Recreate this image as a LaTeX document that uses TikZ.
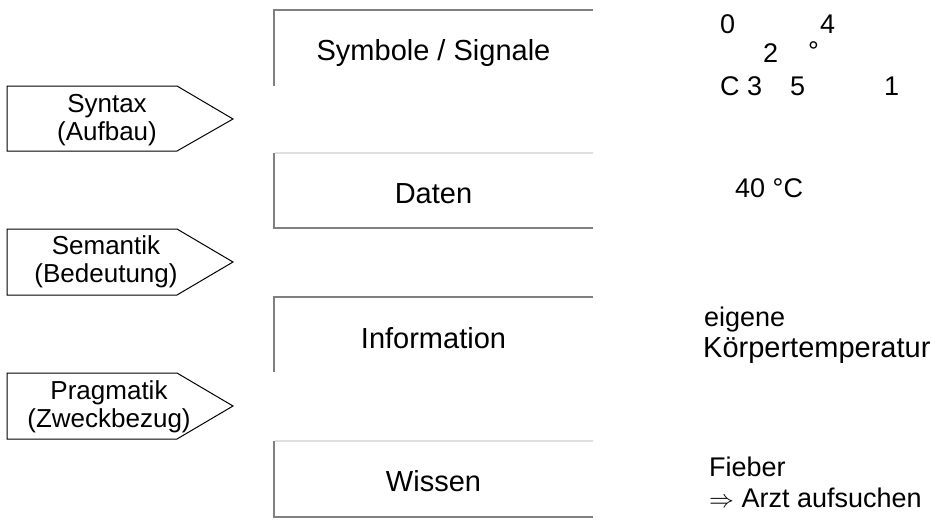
\documentclass[tikz,border=0pt]{standalone}
\usepackage{fontspec}
\setmainfont{Liberation Sans}
\begin{document}
\begin{tikzpicture}[x=1pt,y=-1pt,
  boxline/.style={draw=black!50,line width=1.3pt},
  lightline/.style={draw=black!12,line width=1.3pt},
  arrowshape/.style={draw=black,line width=1pt},
  boxtext/.style={anchor=base,inner sep=0pt,font=\fontsize{29}{33}\selectfont},
  arrowtext/.style={align=center,inner sep=0pt,font=\fontsize{26}{28.5}\selectfont},
  sidetext/.style={anchor=base west,inner sep=0pt,font=\fontsize{27}{30}\selectfont},
  sidetextB/.style={anchor=base west,inner sep=0pt,font=\fontsize{29}{30}\selectfont}]
\useasboundingbox[fill=white] (0,0) rectangle (940,520);

% boxes (level blocks)
\draw[boxline] (593,10) -- (274,10) -- (274,86);
\draw[lightline] (593,153) -- (275,153);
\draw[boxline] (274,153) -- (274,228) -- (593,228);
\draw[boxline] (593,297) -- (274,297) -- (274,372);
\draw[lightline] (593,441) -- (275,441);
\draw[boxline] (274,441) -- (274,517) -- (593,517);

\node[boxtext] (sym) at (433.5,60) {Symbole / Signale};
\node[boxtext] (dat) at (433.5,203) {Daten};
\node[boxtext] (inf) at (433.5,348) {Information};
\node[boxtext] (wis) at (433.5,491) {Wissen};

% arrows
\draw[arrowshape] (7,86) -- (177,86) -- (233,119) -- (177,151) -- (7,151) -- cycle;
\draw[arrowshape] (7,229) -- (177,229) -- (233,262) -- (177,295) -- (7,295) -- cycle;
\draw[arrowshape] (7,373) -- (177,373) -- (233,406) -- (177,439) -- (7,439) -- cycle;

\node[arrowtext] (syn) at (107,120) {Syntax\\(Aufbau)};
\node[arrowtext] (sem) at (106,262) {Semantik\\(Bedeutung)};
\node[arrowtext] (pra) at (109,407) {Pragmatik\\(Zweckbezug)};

% examples
\node[sidetext] (d0) at (720,33) {0};
\node[sidetext] (d4) at (820,33) {4};
\node[sidetext] (d2) at (763,62) {2};
\node[sidetext] (deg) at (808,60) {°};
\node[sidetext] (c3) at (720,95) {C 3};
\node[sidetext] (d5) at (790,95) {5};
\node[sidetext] (d1) at (884,95) {1};

\node[sidetext] (t40) at (735,197) {40 °C};

\node[sidetext] (eig) at (704,326) {eigene};
\node[sidetextB] (koe) at (703,357) {Körpertemperatur};

\node[sidetext] (fie) at (709,476) {Fieber};
\node[sidetext] (arz) at (709,507) {$\Rightarrow$ Arzt aufsuchen};
\end{tikzpicture}
\end{document}
